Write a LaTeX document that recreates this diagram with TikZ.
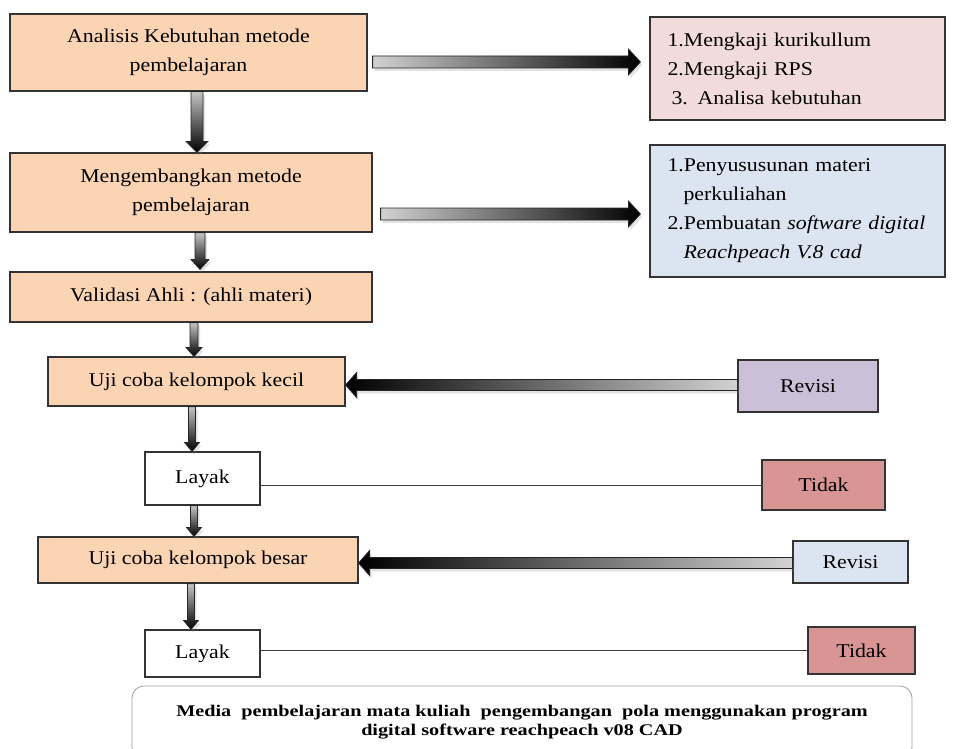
\documentclass[tikz,border=0pt]{standalone}
\usepackage{fontspec}
\setmainfont{Liberation Serif}[FakeStretch=1.12]
\newfontfamily\botfont{Liberation Serif}[FakeStretch=1.24]
\usetikzlibrary{calc,shadows}
\definecolor{peach}{HTML}{FBD4B4}
\definecolor{pinkbox}{HTML}{F2DCDB}
\definecolor{bluebox}{HTML}{DBE5F1}
\definecolor{purplebox}{HTML}{CCC0D9}
\definecolor{redbox}{HTML}{D99594}
\newcommand\mainsz{\fontsize{19.5}{29}\selectfont}
\newcommand\botsz{\botfont\bfseries\fontsize{16.3}{19}\selectfont}
\tikzset{
  box/.style={draw=black!80, line width=1.2pt, inner sep=0pt, align=center, font=\mainsz},
  peachbox/.style={box, fill=peach},
  listbox/.style={box, align=left, inner xsep=17.5pt, text width=260pt, minimum width=295pt},
  arrshadow/.style={drop shadow={opacity=0.22, shadow xshift=2pt, shadow yshift=-3pt}},
  harrR/.style={arrshadow, draw=black!85, line width=0.8pt, left color=gray!35, right color=black},
  harrL/.style={arrshadow, draw=black!85, line width=0.8pt, left color=black, right color=gray!35},
  varr/.style={arrshadow, draw=black!85, line width=0.8pt, top color=gray!45, bottom color=black},
  plainline/.style={draw=black!75, line width=0.9pt}
}
% right-pointing block arrow: #1 tail, #2 tip, #3 half shaft, #4 half head, #5 head length
\newcommand\rarrow[5]{%
  \path[harrR] let \p1=#1, \p2=#2 in
   (\x1,\y2+#3) -- (\x2-#5,\y2+#3) -- (\x2-#5,\y2+#4) -- (\x2,\y2)
   -- (\x2-#5,\y2-#4) -- (\x2-#5,\y2-#3) -- (\x1,\y2-#3) -- cycle;}
% left-pointing block arrow
\newcommand\larrow[5]{%
  \path[harrL] let \p1=#1, \p2=#2 in
   (\x1,\y2+#3) -- (\x2+#5,\y2+#3) -- (\x2+#5,\y2+#4) -- (\x2,\y2)
   -- (\x2+#5,\y2-#4) -- (\x2+#5,\y2-#3) -- (\x1,\y2-#3) -- cycle;}
% down-pointing block arrow
\newcommand\darrow[5]{%
  \path[varr] let \p1=#1, \p2=#2 in
   (\x1-#3,\y1) -- (\x1-#3,\y2+#5) -- (\x1-#4,\y2+#5) -- (\x1,\y2)
   -- (\x1+#4,\y2+#5) -- (\x1+#3,\y2+#5) -- (\x1+#3,\y1) -- cycle;}
\begin{document}
\begin{tikzpicture}[x=1pt,y=-1pt]
\useasboundingbox (0,0) rectangle (955,749);
\fill[white] (0,0) rectangle (955,749);

% left column
\node[peachbox, minimum width=357pt, minimum height=77pt] (b1) at (188.5,52.5)
  {Analisis Kebutuhan metode\\pembelajaran};
\node[peachbox, minimum width=362pt, minimum height=79pt] (b2) at (191,192.5)
  {Mengembangkan metode\\pembelajaran};
\node[peachbox, minimum width=362pt, minimum height=50pt] (b3) at (191,297)
  {Validasi Ahli : (ahli materi)};
\node[peachbox, minimum width=297pt, minimum height=49pt] (b4) at (196.5,381.5)
  {Uji coba kelompok kecil};
\node[box, fill=white, minimum width=115pt, minimum height=53pt] (l1) at (202.5,478.5)
  {Layak};
\node[peachbox, minimum width=320pt, minimum height=46pt] (b5) at (198,560)
  {Uji coba kelompok besar};
\node[box, fill=white, minimum width=115pt, minimum height=47pt] (l2) at (202.5,653.5)
  {Layak};

% right column
\node[listbox, fill=pinkbox, minimum height=103pt] (rb1) at (797.5,68.5)
  {1.Mengkaji kurikullum\\2.Mengkaji RPS\\\hspace*{4pt}3. Analisa kebutuhan};
\node[listbox, fill=bluebox, minimum height=132pt] (rb2) at (797.5,211)
  {1.Penyususunan materi\\\hspace*{16pt}perkuliahan\\2.Pembuatan \textit{software digital}\\\hspace*{16pt}\textit{Reachpeach V.8 cad}};
\node[box, fill=purplebox, minimum width=140pt, minimum height=52pt] (r1) at (808,386)
  {Revisi};
\node[box, fill=redbox, minimum width=123pt, minimum height=50pt] (t1) at (823.5,485)
  {Tidak};
\node[box, fill=bluebox, minimum width=115pt, minimum height=42pt] (r2) at (850.5,562)
  {Revisi};
\node[box, fill=redbox, minimum width=107pt, minimum height=47pt] (t2) at (861.5,650.5)
  {Tidak};

% bottom box
\begin{scope}
\clip (0,0) rectangle (955,749);
\node[draw=gray!75, line width=0.8pt, rounded corners=12pt, fill=white,
      minimum width=780pt, minimum height=73pt, align=center, font=\botsz] (bot) at (522,722.5)
  {Media\ \ pembelajaran mata kuliah\ \ pengembangan\ \ pola menggunakan program\\digital software reachpeach v08 CAD};
\end{scope}

% horizontal block arrows
\rarrow{([shift={(5pt,-9.5pt)}]b1.east)}{([shift={(-9pt,6.5pt)}]rb1.west)}{6pt}{13pt}{12pt}
\rarrow{([shift={(8pt,-21.5pt)}]b2.east)}{([shift={(-9pt,-3pt)}]rb2.west)}{6pt}{13pt}{12pt}
\larrow{(r1.west)}{([yshift=-3.5pt]b4.east)}{5.5pt}{12.5pt}{11pt}
\larrow{(r2.west)}{([yshift=-3pt]b5.east)}{5.5pt}{12.5pt}{11pt}

% vertical block arrows
\darrow{([xshift=8.5pt]b1.south)}{(b2.north)}{6pt}{11pt}{11pt}
\darrow{([xshift=9pt]b2.south)}{([yshift=2pt]b3.north)}{5pt}{9pt}{10pt}
\darrow{([xshift=3pt]b3.south)}{(b4.north)}{4pt}{8pt}{9pt}
\darrow{([xshift=-4.5pt]b4.south)}{(l1.north)}{3.5pt}{7.5pt}{9pt}
\darrow{([xshift=-8.5pt]l1.south)}{(b5.north)}{3.5pt}{7.5pt}{9pt}
\darrow{([xshift=-7pt]b5.south)}{(l2.north)}{3.5pt}{7.5pt}{9pt}

% plain lines Layak -- Tidak
\draw[plainline] (l1.east |- t1.west) -- (t1.west);
\draw[plainline] (l2.east |- t2.west) -- (t2.west);
\end{tikzpicture}
\end{document}
